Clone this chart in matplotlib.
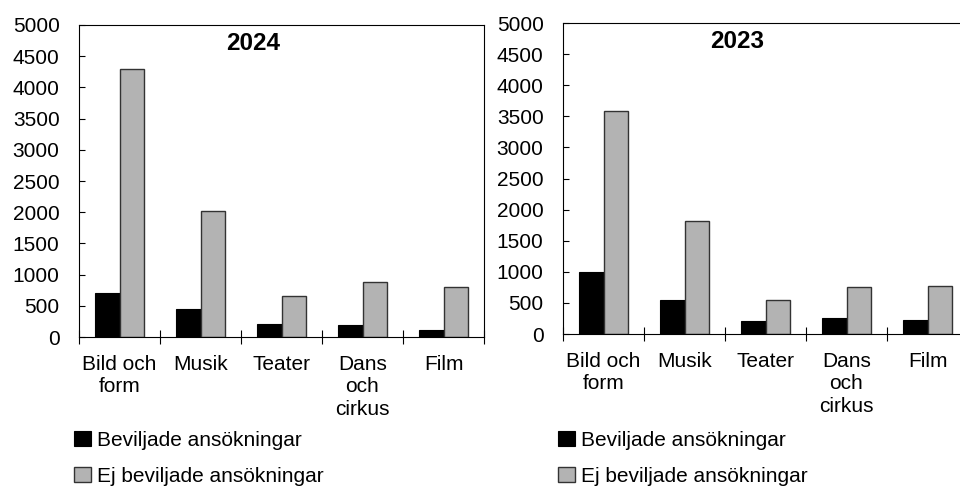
import numpy as np
import matplotlib.pyplot as plt
from matplotlib.ticker import FixedLocator

plt.rcParams['font.family'] = ['Liberation Sans', 'DejaVu Sans']

categories = ['Bild och\nform', 'Musik', 'Teater', 'Dans\noch\ncirkus', 'Film']
beviljade_2024 = [700, 455, 208, 187, 112]
ej_beviljade_2024 = [4290, 2014, 662, 881, 796]
beviljade_2023 = [1000, 541, 209, 252, 230]
ej_beviljade_2023 = [3581, 1809, 546, 760, 776]

labels = ['Beviljade ansökningar', 'Ej beviljade ansökningar']

fig = plt.figure(figsize=(9.6, 4.86), dpi=100)

panels = [
    ('2024', beviljade_2024, ej_beviljade_2024, [79 / 960, 1 - 337 / 486, 405 / 960, 312 / 486]),
    ('2023', beviljade_2023, ej_beviljade_2023, [563 / 960, 1 - 334 / 486, 405 / 960, 311 / 486]),
]

x = np.arange(len(categories))
w = 0.3
fs = 15

for year, bev, ej, rect in panels:
    ax = fig.add_axes(rect)
    ax.bar(x - w / 2, bev, w, color='black', edgecolor='black', linewidth=0.8, label=labels[0])
    ax.bar(x + w / 2, ej, w, color='#b3b3b3', edgecolor='#333333', linewidth=1.0, label=labels[1])
    ax.set_xlim(-0.5, len(categories) - 0.5)
    ax.set_ylim(0, 5000)
    ax.set_yticks(np.arange(0, 5001, 500))
    ax.set_xticks(x)
    ax.set_xticklabels(categories, fontsize=fs, linespacing=1.22)
    ax.xaxis.set_minor_locator(FixedLocator(np.arange(-0.5, len(categories), 1.0)))
    ax.tick_params(axis='x', which='major', length=0, pad=13)
    ax.tick_params(axis='x', which='minor', direction='inout', length=9.5, width=0.8)
    ax.tick_params(axis='y', direction='in', length=4.5, width=0.8, pad=14, labelsize=fs)
    for s in ax.spines.values():
        s.set_linewidth(0.8)
    ax.text(0.43, 0.94, year, transform=ax.transAxes, ha='center', va='center',
            fontsize=17.5, fontweight='bold')
    left_px = rect[0] * 960 - 5
    ax.legend(loc='upper left', bbox_to_anchor=(left_px / 960, 1 - 431 / 486),
              bbox_transform=fig.transFigure, frameon=False, fontsize=fs,
              borderpad=0, borderaxespad=0, handlelength=0.82, handleheight=0.72,
              handletextpad=0.3, labelspacing=0.8)

fig.savefig('out.png', dpi=100)
